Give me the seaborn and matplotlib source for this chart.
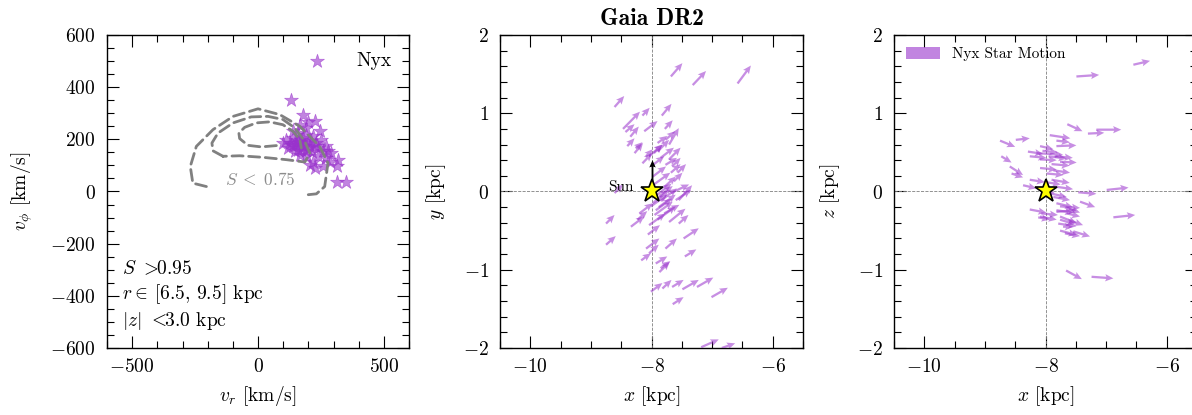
import matplotlib
matplotlib.use("Agg")
import numpy as np
import pandas as pd
import matplotlib.pyplot as plt
import matplotlib.patches as mpatches
from matplotlib.ticker import MultipleLocator
import seaborn as sns

# ---------------- data ----------------
# Left panel: Nyx stars in (v_r, v_phi) [km/s]
nyx_vr = [133, 179, 199, 166, 192, 225, 245, 113, 100, 139,
          119, 152, 172, 199, 159, 192, 225, 259, 279, 239,
          219, 272, 285, 318, 312, 225, 206, 312, 351, 139,
          159, 192, 133, 179, 219, 252, 272, 239, 192, 166,
          126, 146, 259, 292,
          150, 165, 185, 205, 170, 140, 210, 230, 180, 160, 195, 215]
nyx_vphi = [350, 295, 265, 256, 244, 269, 231, 199, 186, 205,
            167, 186, 199, 186, 160, 154, 173, 154, 154, 135,
            115, 128, 115, 122, 96, 90, 103, 35, 38, 231,
            224, 218, 179, 173, 212, 199, 173, 167, 135, 141,
            186, 154, 96, 148,
            180, 190, 175, 170, 160, 175, 195, 185, 205, 195, 165, 150]

# S < 0.75 contour lines (v_r, v_phi)
cont_outer_vr = [-205, -259, -269, -245, -179, -99, 0, 86, 166, 245, 278, 265, 232, 192]
cont_outer_vphi = [19, 32, 96, 173, 237, 288, 317, 295, 250, 173, 109, 19, -9, -13]
cont_mid_vr = [-139, -179, -183, -159, -99, -27, 40, 99, 146, 186, 206, 186, 113, 20, -73, -139]
cont_mid_vphi = [135, 156, 186, 224, 263, 286, 288, 276, 244, 192, 147, 113, 122, 131, 137, 135]
cont_in_vr = [73, 13, -40, -73, -76, -53, -7, 46, 99, 139, 166, 172]
cont_in_vphi = [176, 171, 177, 203, 224, 246, 263, 267, 256, 231, 199, 167]

# Middle panel: star positions (x, y) [kpc] and in-plane motion vectors
xy_x = [-7.68, -7.32, -6.58, -8.61, -8.47, -8.43, -8.35, -8.15, -7.83, -8.12,
        -7.78, -7.71, -8.26, -8.28, -8.04, -7.90, -7.85, -7.77, -7.68, -7.63,
        -7.68, -7.60, -7.98, -7.93, -8.20, -8.34, -8.04, -7.90, -7.71, -7.55,
        -8.75, -8.61, -8.75, -8.09, -7.77, -7.47, -7.93, -7.85, -8.04, -8.15,
        -8.01, -7.98, -7.96, -7.87, -8.01, -7.79, -8.23, -7.66, -7.57, -7.71,
        -7.96, -7.90, -7.77, -8.09, -7.45, -7.87, -8.17, -8.01, -7.82, -7.66,
        -7.49, -7.25, -7.01, -7.65, -7.18, -6.84, -7.92, -7.85, -7.95, -7.88,
        -7.80, -7.55, -8.06, -8.40]
xy_y = [1.47, 1.36, 1.38, 1.08, 0.80, 0.76, 0.70, 0.97, 0.97, 0.77,
        0.80, 0.60, 0.55, 0.49, 0.45, 0.51, 0.43, 0.34, 0.24, 0.13,
        -0.02, -0.11, -0.15, -0.24, -0.28, -0.45, -0.43, -0.36, -0.39, -0.41,
        -0.41, -0.02, -0.68, -0.73, -0.73, -0.60, -0.92, -0.98, -0.79, 0.36,
        0.32, 0.19, 0.09, -0.06, -0.19, -0.28, -0.36, 0.32, 0.24, 0.41,
        0.49, 0.62, 0.66, 0.45, -0.83, -1.03, -0.88, -1.28, -1.24, -1.22,
        -1.25, -1.22, -1.35, -1.44, -1.99, -2.00, -0.05, -0.12, -0.30, -0.20,
        0.05, -0.11, -0.55, 0.58]
xy_u = [0.19, 0.22, 0.22, 0.16, 0.28, 0.15, 0.14, 0.12, 0.16, 0.22,
        0.13, 0.16, 0.11, 0.14, 0.22, 0.19, 0.22, 0.19, 0.16, 0.14,
        0.30, 0.25, 0.27, 0.27, 0.22, 0.22, 0.27, 0.30, 0.27, 0.16,
        0.14, 0.14, 0.16, 0.22, 0.19, 0.25, 0.19, 0.16, 0.16, 0.16,
        0.22, 0.22, 0.27, 0.22, 0.27, 0.25, 0.16, 0.14, 0.14, 0.19,
        0.14, 0.16, 0.16, 0.11, 0.19, 0.17, 0.16, 0.19, 0.15, 0.19,
        0.27, 0.27, 0.27, 0.18, 0.29, 0.22, 0.25, 0.27, 0.30, 0.28,
        0.20, 0.22, 0.20, 0.12]
xy_v = [0.17, 0.18, 0.23, 0.14, 0.22, 0.10, 0.13, 0.10, 0.15, 0.13,
        0.11, 0.21, 0.08, 0.13, 0.15, 0.15, 0.13, 0.09, 0.11, 0.11,
        0.11, 0.13, 0.17, 0.15, 0.13, 0.13, 0.15, 0.17, 0.17, 0.11,
        0.11, 0.11, 0.11, 0.13, 0.13, 0.13, 0.09, 0.09, 0.11, 0.13,
        0.13, 0.13, 0.15, 0.13, 0.15, 0.11, 0.11, 0.11, 0.11, 0.15,
        0.11, 0.09, 0.11, 0.09, 0.09, 0.13, 0.09, 0.11, 0.11, 0.09,
        0.12, 0.12, 0.12, 0.09, 0.10, 0.06, 0.15, 0.16, 0.17, 0.16,
        0.14, 0.19, 0.12, 0.10]

# Right panel: star positions (x, z) [kpc] and motion vectors
xz_x = [-6.55, -7.49, -7.64, -7.30, -7.16, -7.93, -8.75, -8.49, -7.82, -7.82,
        -8.09, -8.29, -8.26, -8.73, -8.15, -8.09, -7.76, -8.59, -8.56, -8.09,
        -7.98, -7.87, -8.26, -8.37, -7.82, -7.87, -7.46, -6.99, -7.82, -7.43,
        -7.82, -7.65, -8.26, -8.09, -6.88, -7.76, -7.60, -8.07, -8.12, -7.82,
        -7.76, -7.65, -7.76, -7.71, -7.76, -7.54, -7.68, -7.79, -7.66, -7.24,
        -8.05, -7.95, -7.90, -8.00, -7.90, -8.10, -7.95, -7.85]
xz_z = [1.62, 1.47, 0.86, 0.74, 0.79, 0.72, 0.65, 0.66, 0.58, 0.65,
        0.58, 0.51, 0.45, 0.45, 0.49, 0.41, 0.38, 0.32, 0.23, 0.30,
        0.23, 0.27, 0.15, 0.08, 0.06, -0.07, -0.01, 0.02, -0.15, -0.13,
        -0.24, -0.21, -0.23, -0.32, -0.33, -0.32, -0.37, -0.28, -0.33, -0.26,
        -0.19, -0.28, -0.36, -0.45, -0.50, -0.51, -0.535, -0.41, -1.01, -1.09,
        0.52, 0.45, 0.35, 0.12, 0.15, 0.04, -0.02, 0.45]
xz_u = [0.275, 0.375, 0.25, 0.27, 0.41, 0.34, 0.25, 0.23, 0.33, 0.22,
        0.22, 0.25, 0.275, 0.17, 0.44, 0.275, 0.275, 0.22, 0.19, 0.275,
        0.275, 0.275, 0.25, 0.22, 0.275, 0.275, 0.30, 0.36, 0.275, 0.25,
        0.275, 0.22, 0.275, 0.275, 0.36, 0.275, 0.22, 0.275, 0.19, 0.33,
        0.33, 0.22, 0.25, 0.165, 0.275, 0.275, 0.25, 0.30, 0.26, 0.36,
        0.25, 0.30, 0.30, 0.25, 0.30, 0.25, 0.30, 0.30]
xz_w = [0.05, 0.02, -0.09, 0.01, 0.00, -0.04, -0.08, 0.02, 0.01, -0.02,
        -0.04, -0.03, -0.02, -0.08, -0.02, -0.01, -0.01, -0.11, -0.05, -0.02,
        -0.02, -0.03, -0.03, -0.04, -0.03, -0.04, -0.02, 0.03, -0.05, -0.07,
        -0.03, -0.06, -0.04, -0.04, 0.03, -0.085, -0.06, -0.02, -0.03, 0.02,
        -0.02, -0.04, -0.06, 0.00, -0.055, -0.065, -0.035, -0.035, -0.11, -0.02,
        -0.02, -0.03, -0.02, -0.03, -0.04, -0.06, -0.05, -0.02]

sun_x, sun_y, sun_z = -8.0, 0.0, 0.0
sun_vy = 0.4  # Sun motion arrow length (kpc units on plot)

# ---------------- style ----------------
sns.set_style("ticks")
plt.rcParams.update({
    "font.family": ["cmr10"],
    "mathtext.fontset": "cm",
    "axes.formatter.use_mathtext": True,
    "axes.unicode_minus": True,
    "font.size": 14,
    "axes.edgecolor": "black",
    "axes.labelcolor": "black",
    "text.color": "black",
    "xtick.color": "black",
    "ytick.color": "black",
    "axes.linewidth": 1.0,
    "xtick.direction": "in",
    "ytick.direction": "in",
    "xtick.top": True,
    "ytick.right": True,
    "xtick.major.size": 8.5,
    "ytick.major.size": 8.5,
    "xtick.minor.size": 5,
    "ytick.minor.size": 5,
    "xtick.major.width": 0.8,
    "ytick.major.width": 0.8,
    "xtick.minor.width": 0.8,
    "ytick.minor.width": 0.8,
    "xtick.minor.visible": True,
    "ytick.minor.visible": True,
    "xtick.major.pad": 7,
    "ytick.major.pad": 8,
    "xtick.labelsize": 14,
    "ytick.labelsize": 14,
    "axes.labelsize": 14,
})

purple = "#9932CC"
arrow_kw = dict(angles="xy", scale_units="xy", scale=1, color=purple, alpha=0.55,
                width=0.0075, headwidth=3.2, headlength=3.6, headaxislength=3.1,
                linewidth=0, zorder=3)

fig = plt.figure(figsize=(11.92, 4.15), dpi=100)
W, H = 1192.0, 415.0
bot = (H - 348) / H
hgt = 313 / H
ax1 = fig.add_axes([107 / W, bot, 302 / W, hgt])
ax2 = fig.add_axes([500 / W, bot, 303 / W, hgt])
ax3 = fig.add_axes([894 / W, bot, 303 / W, hgt])

# ---------------- left panel ----------------
df = pd.DataFrame({"vr": nyx_vr, "vphi": nyx_vphi})
sns.scatterplot(data=df, x="vr", y="vphi", ax=ax1, marker="*", s=110, color=purple,
                alpha=0.6, edgecolor=purple, linewidth=0.5, label="Nyx", zorder=2)
for cx, cy in [(cont_outer_vr, cont_outer_vphi), (cont_mid_vr, cont_mid_vphi),
               (cont_in_vr, cont_in_vphi)]:
    ax1.plot(cx, cy, color="0.5", lw=2.0, ls=(0, (4, 2)), zorder=3,
             solid_capstyle="round", dash_capstyle="round")
ax1.text(10, 45, r"$S\;<\;0.75$", color="0.55", fontsize=12.5, ha="center", va="center")
ax1.text(0.05, 0.05,
         "$S$ $>\\!\\!$0.95\n$r \\in\\!$ [6.5, 9.5] kpc\n$|z|$ $<\\!\\!$3.0 kpc",
         transform=ax1.transAxes, ha="left", va="bottom", fontsize=14, linespacing=1.25)
ax1.set_xlim(-600, 600)
ax1.set_ylim(-600, 600)
ax1.xaxis.set_major_locator(MultipleLocator(500))
ax1.xaxis.set_minor_locator(MultipleLocator(100))
ax1.yaxis.set_major_locator(MultipleLocator(200))
ax1.yaxis.set_minor_locator(MultipleLocator(50))
ax1.set_xlabel(r"$v_r$ [km/s]", labelpad=6)
ax1.set_ylabel(r"$v_\phi$ [km/s]", labelpad=11)
ax1.legend(loc="upper right", frameon=False, fontsize=14, handletextpad=1.0,
           borderaxespad=0.5)

# ---------------- middle panel ----------------
ax2.axvline(sun_x, color="0.5", ls="--", lw=0.6, zorder=1)
ax2.axhline(sun_y, color="0.5", ls="--", lw=0.6, zorder=1)
ax2.quiver(xy_x, xy_y, xy_u, xy_v, **arrow_kw)
ax2.quiver([sun_x], [sun_y], [0], [sun_vy], angles="xy", scale_units="xy", scale=1,
           color="black", width=0.006, headwidth=3.5, headlength=4, headaxislength=3.5,
           zorder=4)
ax2.plot([sun_x], [sun_y], marker="*", ms=17, mfc="#FFFF00", mec="black", mew=1.2,
         ls="none", zorder=5)
ax2.text(sun_x - 0.3, sun_y + 0.05, "Sun", fontsize=11, ha="right", va="center")
ax2.set_xlim(-10.5, -5.5)
ax2.set_ylim(-2, 2)
ax2.xaxis.set_major_locator(MultipleLocator(2))
ax2.xaxis.set_minor_locator(MultipleLocator(0.5))
ax2.yaxis.set_major_locator(MultipleLocator(1))
ax2.yaxis.set_minor_locator(MultipleLocator(0.2))
ax2.set_xlabel(r"$x$ [kpc]", labelpad=6)
ax2.set_ylabel(r"$y$ [kpc]", labelpad=11)
ax2.set_title("Gaia DR2", fontsize=17, family="cmb10", pad=7)

# ---------------- right panel ----------------
ax3.axvline(sun_x, color="0.5", ls="--", lw=0.6, zorder=1)
ax3.axhline(sun_z, color="0.5", ls="--", lw=0.6, zorder=1)
ax3.quiver(xz_x, xz_z, xz_u, xz_w, **arrow_kw)
ax3.plot([sun_x], [sun_z], marker="*", ms=17, mfc="#FFFF00", mec="black", mew=1.2,
         ls="none", zorder=5)
ax3.set_xlim(-10.5, -5.5)
ax3.set_ylim(-2, 2)
ax3.xaxis.set_major_locator(MultipleLocator(2))
ax3.xaxis.set_minor_locator(MultipleLocator(0.5))
ax3.yaxis.set_major_locator(MultipleLocator(1))
ax3.yaxis.set_minor_locator(MultipleLocator(0.2))
ax3.set_xlabel(r"$x$ [kpc]", labelpad=6)
ax3.set_ylabel(r"$z$ [kpc]", labelpad=11)
handle = mpatches.Patch(color=purple, alpha=0.6, lw=0, label="Nyx Star Motion")
ax3.legend(handles=[handle], loc="upper left", frameon=False, fontsize=11,
           handlelength=2.2, handleheight=0.8, borderaxespad=0.4)

fig.savefig("out.png", dpi=100)
